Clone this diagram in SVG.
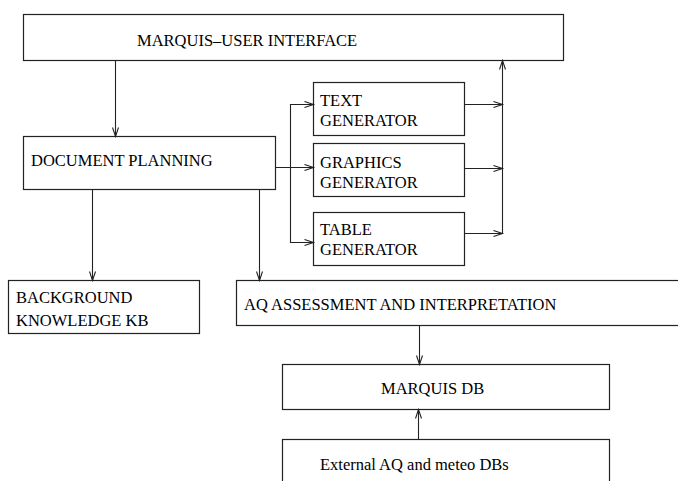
<svg xmlns="http://www.w3.org/2000/svg" width="678" height="481" viewBox="0 0 678 481">
<style>
.box{fill:#fff;stroke:#222;stroke-width:1.2}
.t{font-family:"Liberation Serif","Times New Roman",serif;font-size:16.5px;fill:#000}
.c{fill:none;stroke:#222;stroke-width:1.1}
</style>
<defs>
<marker id="arr" markerUnits="userSpaceOnUse" markerWidth="12" markerHeight="8" refX="10" refY="4" orient="auto">
<path d="M1,1 L10,4 L1,7" fill="none" stroke="#222" stroke-width="1.1"/>
</marker>
</defs>
<rect width="678" height="481" fill="#fff"/>
<g id="ui"><rect class="box" x="23.5" y="14.5" width="540" height="46"/><text class="t" x="137" y="46">MARQUIS–USER INTERFACE</text></g>
<g id="docplan"><rect class="box" x="23.5" y="136.5" width="252" height="53"/><text class="t" x="31" y="166">DOCUMENT PLANNING</text></g>
<g id="textgen"><rect class="box" x="313.5" y="82.5" width="151" height="53"/><text class="t" x="320" y="106">TEXT</text><text class="t" x="320" y="125.5">GENERATOR</text></g>
<g id="graphgen"><rect class="box" x="313.5" y="143.5" width="151" height="53"/><text class="t" x="320" y="168">GRAPHICS</text><text class="t" x="320" y="187.5">GENERATOR</text></g>
<g id="tablegen"><rect class="box" x="313.5" y="212.5" width="151" height="53"/><text class="t" x="320" y="235">TABLE</text><text class="t" x="320" y="254.5">GENERATOR</text></g>
<g id="background"><rect class="box" x="8.5" y="280.5" width="191" height="53"/><text class="t" x="16" y="303">BACKGROUND</text><text class="t" x="16" y="326">KNOWLEDGE KB</text></g>
<g id="aq"><rect class="box" x="236.5" y="280.5" width="460" height="45"/><text class="t" x="244" y="310">AQ ASSESSMENT AND INTERPRETATION</text></g>
<g id="marquisdb"><rect class="box" x="282.5" y="364.5" width="327" height="45"/><text class="t" x="381" y="394">MARQUIS DB</text></g>
<g id="external"><rect class="box" x="282.5" y="439.5" width="327" height="60"/><text class="t" x="320" y="470">External AQ and meteo DBs</text></g>
<g id="connectors">
<path class="c" d="M115.5,60.5 V136.5" marker-end="url(#arr)"/>
<path class="c" d="M275.5,167.5 H313.5" marker-end="url(#arr)"/>
<path class="c" d="M290.5,167.5 V104.5 H313.5" marker-end="url(#arr)"/>
<path class="c" d="M290.5,167.5 V242.5 H313.5" marker-end="url(#arr)"/>
<path class="c" d="M464.5,104.5 H502.5" marker-end="url(#arr)"/>
<path class="c" d="M464.5,168.5 H502.5" marker-end="url(#arr)"/>
<path class="c" d="M464.5,233.5 H502.5" marker-end="url(#arr)"/>
<path class="c" d="M502.5,233.5 V60.5" marker-end="url(#arr)"/>
<path class="c" d="M92.5,189.5 V280.5" marker-end="url(#arr)"/>
<path class="c" d="M259.5,189.5 V280.5" marker-end="url(#arr)"/>
<path class="c" d="M419.5,325.5 V364.5" marker-end="url(#arr)"/>
<path class="c" d="M418.5,439.5 V409.5" marker-end="url(#arr)"/>
</g>
</svg>
